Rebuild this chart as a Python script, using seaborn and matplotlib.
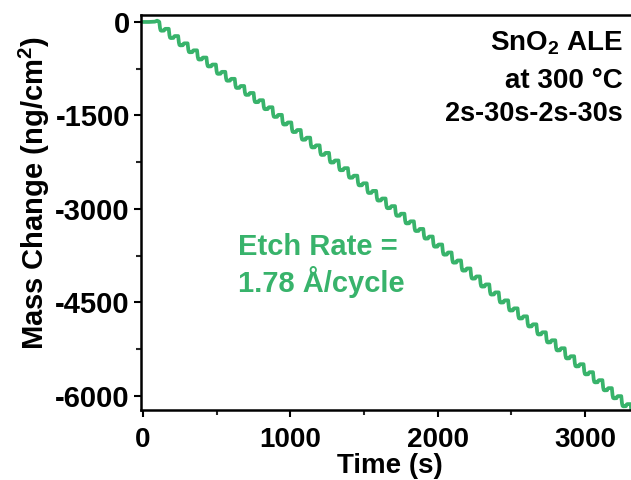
import numpy as np
import pandas as pd
import matplotlib
matplotlib.use("Agg")
import matplotlib.pyplot as plt
import seaborn as sns

# --- data ---
# initial baseline before the first ALE cycle (time s, mass ng/cm2)
base_t = [0, 40, 80, 95, 105, 110]
base_m = [0, 0, 5, 20, 10, 0]
cycle_start = 110          # s, first cycle start
cycle_period = 64          # s, 2s-30s-2s-30s
# mass at the end of each ALE cycle (ng/cm2)
cycle_end_mass = [
    -110, -226, -343, -455, -571, -683, -800, -912, -1027, -1139, -1255, -1368,
    -1490, -1612, -1733, -1856, -1979, -2100, -2222, -2345, -2466, -2588, -2710,
    -2832, -2954, -3076, -3198, -3320, -3442,
    -3570, -3698, -3826, -3954, -4082, -4210, -4338, -4466, -4594, -4722, -4850,
    -4978, -5106, -5234, -5362, -5490, -5618, -5746, -5874, -6002, -6130, -6258,
]
# shape of one cycle: time within cycle (s) and fraction of the cycle's mass step
prof_t = [0, 2, 5, 9, 14, 32, 34, 37, 42, 64]
prof_f = [0, 0.35, 0.9, 1.22, 1.28, 1.26, 1.15, 1.04, 1.0, 1.0]

xticks = [0, 1000, 2000, 3000]
yticks = [0, -1500, -3000, -4500, -6000]

green = "#38b36b"

# build the trace
ts = list(base_t)
ms = list(base_m)
prev = 0.0
for k, m_end in enumerate(cycle_end_mass):
    t0 = cycle_start + k * cycle_period
    d = m_end - prev
    for pt, pf in zip(prof_t[1:], prof_f[1:]):
        ts.append(t0 + pt)
        ms.append(prev + pf * d)
    prev = m_end
df = pd.DataFrame({"Time (s)": ts, "Mass": ms})

sns.set_theme(style="ticks")
plt.rcParams["font.family"] = ["Liberation Sans", "DejaVu Sans"]
plt.rcParams["axes.unicode_minus"] = False
plt.rcParams["text.color"] = "black"
plt.rcParams["axes.labelcolor"] = "black"
plt.rcParams["mathtext.fontset"] = "custom"
plt.rcParams["mathtext.rm"] = "Liberation Sans"
plt.rcParams["mathtext.bf"] = "Liberation Sans:bold"

fig = plt.figure(figsize=(6.31, 4.80), dpi=100)
ax = fig.add_axes([0.2235, 0.1458, 0.79, 0.823])

sns.lineplot(data=df, x="Time (s)", y="Mass", sort=False, color=green,
             linewidth=2.7, ax=ax, estimator=None)

ax.set_xlim(-14, 3370)
ax.set_ylim(-6225, 112)
ax.set_xticks(xticks)
ax.set_xticks([500, 1500, 2500], minor=True)
ax.set_yticks(yticks)
ax.set_yticks([-750, -2250, -3750, -5250], minor=True)
ax.tick_params(axis="both", which="major", direction="out", length=5, width=1.5,
               labelsize=20, colors="black")
ax.tick_params(axis="x", which="major", pad=7)
ax.tick_params(axis="y", which="major", pad=3, labelsize=21)
ax.tick_params(axis="both", which="minor", direction="out", length=3.5, width=1.5)
for lab in ax.get_xticklabels() + ax.get_yticklabels():
    lab.set_fontweight("bold")
for s in ax.spines.values():
    s.set_linewidth(1.8)
    s.set_color("black")

ax.set_xlabel("Time (s)", fontsize=20, fontweight="bold", labelpad=0)
ax.set_ylabel(r"Mass Change (ng/cm$\mathbf{^2}$)", fontsize=21, fontweight="bold")
ax.yaxis.set_label_coords(-0.178, 0.55)

ax.text(0.967, 0.962, r"SnO$\mathbf{_2}$ ALE", transform=ax.transAxes, ha="right",
        va="top", fontsize=20, fontweight="bold", color="black")
ax.text(0.967, 0.866, "at 300 °C", transform=ax.transAxes, ha="right",
        va="top", fontsize=20, fontweight="bold", color="black")
ax.text(0.967, 0.782, "2s-30s-2s-30s", transform=ax.transAxes, ha="right",
        va="top", fontsize=19.5, fontweight="bold", color="black")
ax.text(0.195, 0.448, "Etch Rate =\n1.78 Å/cycle", transform=ax.transAxes,
        ha="left", va="top", fontsize=21, fontweight="bold", color=green,
        linespacing=1.2)

fig.savefig("out.png", dpi=100)
